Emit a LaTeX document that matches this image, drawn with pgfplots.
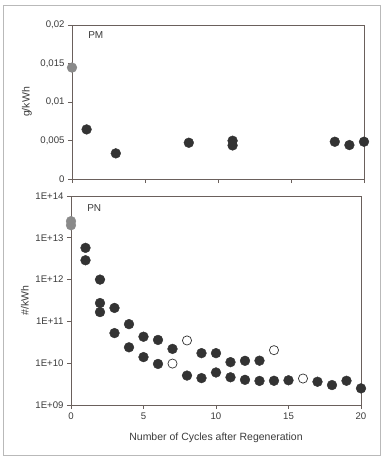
\documentclass[border=0pt]{standalone}
\usepackage{pgfplots}
\pgfplotsset{compat=1.18}
\usepackage{fontspec}
\setmainfont{Liberation Sans}
\definecolor{axc}{HTML}{6A605C}
\definecolor{dot}{HTML}{333333}
\definecolor{gdot}{HTML}{8A8A8A}
\definecolor{txt}{HTML}{3A3A3A}
\begin{document}
\begin{tikzpicture}
\path[use as bounding box] (0pt,0pt) rectangle (389pt,-461pt);
\draw[gray!55, line width=0.9pt] (3pt,-5pt) rectangle (380pt,-455pt);
\pgfplotsset{
  every axis/.append style={
    scale only axis, anchor=south west, clip=false,
    axis line style={axc, line width=0.8pt},
    every tick/.style={axc, line width=0.7pt},
    tick align=outside, major tick length=4pt,
    xtick pos=bottom, ytick pos=left,
    scaled y ticks=false,
    tick label style={font=\fontsize{9.6}{11}\selectfont, text=txt},
    label style={font=\fontsize{10.5}{12}\selectfont, text=txt, anchor=center},
    /pgf/number format/assume math mode=true,
    xmin=0, xmax=20, xtick={0,5,10,15,20},
  },
}
% ---------- PM ----------
\begin{axis}[at={(72pt,-179pt)}, width=292pt, height=154pt,
  ymin=0, ymax=0.02, ytick={0,0.005,0.01,0.015,0.02},
  yticklabels={0,{0,005},{0,01},{0,015},{0,02}},
  xticklabels={},
  ylabel={g/kWh}, ylabel style={at={(axis description cs:-0.154,0.5)}},
]
\addplot[only marks, mark=*, mark size=4.9pt, gdot, mark options={draw=gdot,fill=gdot}] coordinates {(0,0.01447)};
\addplot[only marks, mark=*, mark size=4.9pt, dot, mark options={draw=dot,fill=dot}] coordinates {
(1,0.00644) (3,0.00333) (8,0.00471) (11,0.00497) (11,0.00436) (18,0.00484) (19,0.00441) (20,0.00484)};
\node[font=\fontsize{10}{12}\selectfont, text=txt] at (axis description cs:0.0815,0.935) {PM};
\end{axis}
% ---------- PN ----------
\begin{axis}[at={(71pt,-405pt)}, width=290pt, height=209pt,
  ymode=log, ymin=1e9, ymax=1e14,
  ytick={1e9,1e10,1e11,1e12,1e13,1e14},
  yticklabels={1E+09,1E+10,1E+11,1E+12,1E+13,1E+14},
  yminorticks=false,
  xticklabels={0,5,10,15,20},
  ylabel={\#/kWh}, ylabel style={at={(axis description cs:-0.159,0.5)}},
  xlabel={Number of Cycles after Regeneration},
  xlabel style={at={(axis description cs:0.5,-0.158)}},
]
\addplot[only marks, mark=*, mark size=4.9pt, gdot, mark options={draw=gdot,fill=gdot}] coordinates {(0,2.5e13) (0,2.0e13)};
\addplot[only marks, mark=*, mark size=4.9pt, dot, mark options={draw=dot,fill=dot}] coordinates {
(1,5.75e12) (1,2.9e12)
(2,1e12) (2,2.75e11) (2,1.67e11)
(3,2.1e11) (3,5.25e10)
(4,8.6e10) (4,2.4e10)
(5,4.3e10) (5,1.4e10)
(6,3.6e10) (6,9.6e9)
(7,2.2e10)
(8,5.06e9)
(9,1.74e10) (9,4.4e9)
(10,1.74e10) (10,6e9)
(11,1.06e10) (11,4.6e9)
(12,1.14e10) (12,4e9)
(13,1.15e10) (13,3.77e9)
(14,3.8e9)
(15,3.9e9)
(17,3.6e9)
(18,3.0e9)
(19,3.8e9)
(20,2.5e9)};
\addplot[only marks, mark=*, mark size=4.6pt, dot, mark options={draw=dot,fill=white,line width=0.7pt}] coordinates {
(7,9.8e9) (8,3.5e10) (14,2.05e10) (16,4.3e9)};
\node[font=\fontsize{10}{12}\selectfont, text=txt] at (axis description cs:0.08,0.94) {PN};
\end{axis}
\end{tikzpicture}
\end{document}
